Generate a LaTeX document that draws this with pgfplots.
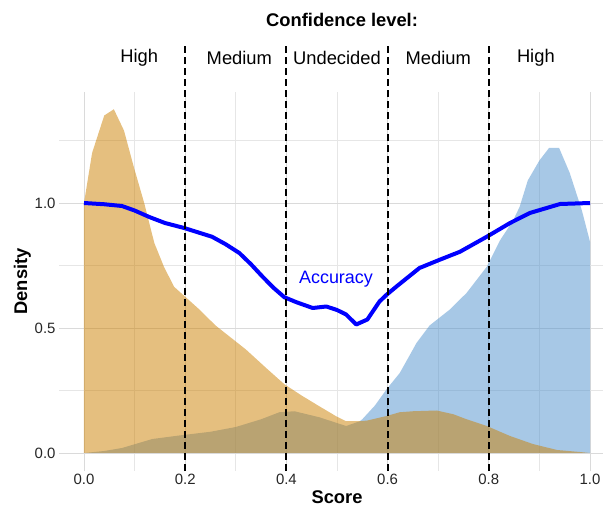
\documentclass[border=0pt]{standalone}
\usepackage{pgfplots}
\pgfplotsset{compat=1.18}
\usepackage{fontspec}
\setmainfont{Liberation Sans}
\definecolor{orfill}{RGB}{204,128,0}
\definecolor{blfill}{RGB}{79,145,205}
\definecolor{gridc}{RGB}{218,218,218}
\definecolor{gridm}{RGB}{230,230,230}
\begin{document}
\begin{tikzpicture}
\useasboundingbox (0,0) rectangle (603bp,507bp);
\begin{axis}[
  at={(59bp,36bp)}, anchor=south west,
  scale only axis, width=544bp, height=379bp,
  xmin=-0.0494, xmax=1.0257, ymin=-0.072, ymax=1.444,
  axis line style={draw=none},
  clip=false,
  xtick={0,0.2,0.4,0.6,0.8,1.0},
  minor xtick={0.1,0.3,0.5,0.7,0.9},
  ytick={0,0.5,1.0},
  minor ytick={0.25,0.75,1.25},
  grid=both,
  major grid style={gridc, line width=0.9bp},
  minor grid style={gridm, line width=0.7bp},
  xticklabel style={font=\fontsize{15}{18}\selectfont, text=black!85, /pgf/number format/fixed, /pgf/number format/fixed zerofill, /pgf/number format/precision=1},
  yticklabel style={font=\fontsize{15}{18}\selectfont, text=black!85, /pgf/number format/fixed, /pgf/number format/fixed zerofill, /pgf/number format/precision=1},
  /pgf/number format/assume math mode=true,
  major tick length=0pt, minor tick length=0pt,
  tick style={draw=none},
]
% Blue density (class near 1)
\addplot[draw=none, fill=blfill, fill opacity=0.5] coordinates {
(0,0) (0.04,0.008) (0.075,0.02) (0.135,0.056) (0.188,0.07) (0.25,0.085) (0.30,0.104) (0.35,0.135) (0.386,0.163) (0.416,0.167) (0.465,0.143) (0.518,0.108) (0.545,0.127) (0.55,0.135) (0.575,0.19) (0.598,0.255) (0.624,0.32) (0.65,0.414) (0.657,0.44) (0.683,0.51) (0.723,0.574) (0.756,0.64) (0.796,0.745) (0.822,0.85) (0.848,0.93) (0.861,0.985) (0.877,1.09) (0.90,1.17) (0.919,1.22) (0.939,1.22) (0.96,1.12) (0.984,0.97) (1.0,0.845) (1.0,0)
} -- cycle;
% Orange density (class near 0)
\addplot[draw=none, fill=orfill, fill opacity=0.5] coordinates {
(0,0) (0,1.00) (0.016,1.20) (0.04,1.35) (0.059,1.375) (0.079,1.29) (0.099,1.14) (0.119,1.00) (0.139,0.84) (0.158,0.745) (0.178,0.665) (0.2,0.625) (0.228,0.574) (0.26,0.51) (0.3,0.446) (0.32,0.414) (0.36,0.34) (0.396,0.275) (0.43,0.23) (0.465,0.187) (0.50,0.145) (0.518,0.127) (0.545,0.127) (0.56,0.13) (0.598,0.148) (0.624,0.163) (0.65,0.167) (0.697,0.17) (0.73,0.155) (0.756,0.135) (0.796,0.108) (0.842,0.068) (0.887,0.036) (0.935,0.012) (0.98,0.004) (1.0,0)
} -- cycle;
% Accuracy line
\addplot[color={rgb,255:red,0;green,0;blue,255}, line width=4bp, line join=round] coordinates {
(0,1.0) (0.04,0.995) (0.075,0.988) (0.10,0.97) (0.129,0.944) (0.16,0.92) (0.198,0.90) (0.253,0.865) (0.28,0.835) (0.307,0.80) (0.33,0.755) (0.353,0.705) (0.375,0.66) (0.396,0.623) (0.42,0.603) (0.452,0.58) (0.479,0.586) (0.50,0.572) (0.518,0.554) (0.538,0.514) (0.56,0.534) (0.584,0.606) (0.598,0.633) (0.62,0.67) (0.663,0.74) (0.703,0.773) (0.743,0.805) (0.796,0.865) (0.842,0.92) (0.881,0.96) (0.941,0.996) (1.0,1.0)
};
% Dashed thresholds
\addplot[black, line width=2bp, dash pattern=on 7bp off 4bp] coordinates {(0.2,-0.072) (0.2,1.63)};
\addplot[black, line width=2bp, dash pattern=on 7bp off 4bp] coordinates {(0.4,-0.072) (0.4,1.63)};
\addplot[black, line width=2bp, dash pattern=on 7bp off 4bp] coordinates {(0.6,-0.072) (0.6,1.63)};
\addplot[black, line width=2bp, dash pattern=on 7bp off 4bp] coordinates {(0.8,-0.072) (0.8,1.63)};
% Texts
\node[font=\fontsize{18}{21}\selectfont, text={rgb,255:red,0;green,0;blue,255}] at (axis cs:0.498,0.696) {Accuracy};
\node[font=\bfseries\fontsize{18.4}{22}\selectfont] at (axis cs:0.51,1.732) {Confidence level:};
\node[font=\fontsize{18.4}{22}\selectfont] at (axis cs:0.109,1.58) {High};
\node[font=\fontsize{18.4}{22}\selectfont] at (axis cs:0.307,1.58) {Medium};
\node[font=\fontsize{18.4}{22}\selectfont] at (axis cs:0.500,1.58) {Undecided};
\node[font=\fontsize{18.4}{22}\selectfont] at (axis cs:0.700,1.58) {Medium};
\node[font=\fontsize{18.4}{22}\selectfont] at (axis cs:0.893,1.58) {High};
\node[font=\bfseries\fontsize{18.4}{22}\selectfont] at (axis cs:0.50,-0.176) {Score};
\node[font=\bfseries\fontsize{18.4}{22}\selectfont, rotate=90] at (axis cs:-0.122,0.686) {Density};
\end{axis}
\end{tikzpicture}
\end{document}
